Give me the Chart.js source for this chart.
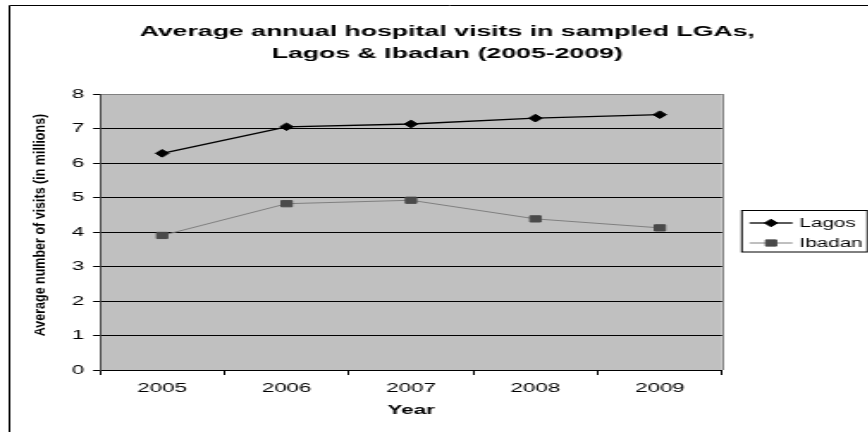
<!DOCTYPE html>
<html>
<head>
<meta charset="utf-8">
<title>Hospital visits, Lagos & Ibadan</title>
<script src="https://cdn.jsdelivr.net/npm/chart.js@4.4.1/dist/chart.umd.min.js"></script>
<style>
  html, body { margin: 0; padding: 0; overflow: hidden; background: #fff; }
  /* the chart is laid out narrow and stretched sideways */
  #wrap {
    position: absolute; left: 0; top: 0;
    width: 517px; height: 432px;
    transform: scaleX(1.72); transform-origin: 0 0;
  }
</style>
</head>
<body>
<div id="wrap"><canvas id="chart" width="517" height="432"></canvas></div>
<script>
const years = ['2005', '2006', '2007', '2008', '2009'];
const lagosVisits = [6.28, 7.05, 7.13, 7.3, 7.4];
const ibadanVisits = [3.9, 4.82, 4.92, 4.38, 4.12];
const yMin = 0;
const yMax = 8;
const titleLines = ['Average annual hospital visits in sampled LGAs,', 'Lagos & Ibadan (2005-2009)'];
const yTitle = 'Average number of visits (in millions)';
const xTitle = 'Year';

const FONT = 'Arial, "Liberation Sans", sans-serif';
Chart.defaults.font.family = FONT;
Chart.defaults.color = '#000';

// frame, plot background, title, rotated axis title and the boxed legend
const decorations = {
    id: 'decorations',
    beforeDraw(chart) {
        const { ctx, chartArea: a } = chart;
        ctx.save();
        ctx.fillStyle = '#c0c0c0';
        ctx.fillRect(a.left, a.top, a.right - a.left, a.bottom - a.top);
        ctx.restore();
    },
    afterDraw(chart) {
        const { ctx, chartArea: a } = chart;
        ctx.save();

        // outer frame (only left and top edges fall inside the page)
        ctx.strokeStyle = '#000';
        ctx.lineWidth = 1;
        ctx.beginPath();
        ctx.moveTo(5.5, chart.height + 5);
        ctx.lineTo(5.5, 5.5);
        ctx.lineTo(chart.width + 5, 5.5);
        ctx.stroke();

        // right edge of the plot area
        ctx.strokeStyle = '#808080';
        ctx.beginPath();
        ctx.moveTo(Math.round(a.right) + 0.5, a.top);
        ctx.lineTo(Math.round(a.right) + 0.5, a.bottom);
        ctx.stroke();

        // title
        ctx.fillStyle = '#000';
        ctx.font = 'bold 15.5px ' + FONT;
        ctx.textAlign = 'center';
        ctx.textBaseline = 'alphabetic';
        titleLines.forEach((line, i) => ctx.fillText(line, 260, 36 + i * 22));

        // y axis title, squeezed across its width
        ctx.save();
        ctx.translate(23.3, 225);
        ctx.scale(0.75, 1);
        ctx.rotate(-Math.PI / 2);
        ctx.font = 'bold 12.5px ' + FONT;
        ctx.textBaseline = 'middle';
        ctx.fillText(yTitle, 0, 0);
        ctx.restore();

        // legend
        const left = a.right + 11.5;
        ctx.strokeStyle = '#000';
        ctx.strokeRect(left, 210.5, 73, 41.5);
        ctx.font = '12px ' + FONT;
        ctx.textAlign = 'left';
        ctx.textBaseline = 'middle';
        chart.data.datasets.forEach((ds, i) => {
            const y = 223 + i * 20;
            ctx.strokeStyle = ds.borderColor;
            ctx.lineWidth = ds.borderWidth;
            ctx.beginPath();
            ctx.moveTo(left + 4.5, y);
            ctx.lineTo(left + 29.5, y);
            ctx.stroke();
            ctx.fillStyle = ds.pointBackgroundColor;
            ctx.strokeStyle = ds.pointBorderColor;
            ctx.lineWidth = 1;
            Chart.helpers.drawPoint(ctx, {
                pointStyle: ds.pointStyle,
                radius: ds.pointRadius,
                rotation: 0,
                borderWidth: 1
            }, left + 17, y);
            ctx.fillStyle = '#000';
            ctx.fillText(ds.label, left + 33.5, y + 0.5);
        });

        ctx.restore();
    }
};

new Chart(document.getElementById('chart'), {
    type: 'line',
    data: {
        labels: years,
        datasets: [
            {
                label: 'Lagos',
                data: lagosVisits,
                borderColor: '#000',
                borderWidth: 1.3,
                pointStyle: 'rectRot',
                pointRadius: 3.8,
                pointBackgroundColor: '#000',
                pointBorderColor: '#000',
                pointBorderWidth: 1
            },
            {
                label: 'Ibadan',
                data: ibadanVisits,
                borderColor: '#808080',
                borderWidth: 1,
                pointStyle: 'rect',
                pointRadius: 4.4,
                pointBackgroundColor: '#4a4a4a',
                pointBorderColor: '#4a4a4a',
                pointBorderWidth: 1
            }
        ]
    },
    options: {
        responsive: false,
        animation: false,
        events: [],
        layout: { padding: { left: 0, top: 94, right: 97.2, bottom: 0 } },
        plugins: {
            legend: { display: false },
            title: { display: false },
            tooltip: { enabled: false }
        },
        scales: {
            x: {
                offset: true,
                grid: {
                    offset: true,
                    drawOnChartArea: false,
                    tickLength: 5,
                    color: '#000'
                },
                border: { color: '#000', width: 1 },
                ticks: { font: { size: 13 }, padding: 6 },
                title: {
                    display: true,
                    text: xTitle,
                    font: { size: 13, weight: 'bold' },
                    padding: { top: 0, bottom: 13.7 }
                },
                afterFit: scale => { scale.height = 62; }
            },
            y: {
                min: yMin,
                max: yMax,
                ticks: { stepSize: 1, font: { size: 13 }, padding: 5 },
                grid: {
                    tickLength: 4,
                    color: ctx => (ctx.tick && ctx.tick.value === yMax ? '#808080' : '#000'),
                    tickColor: '#000'
                },
                border: { color: '#404040', width: 1 },
                afterFit: scale => { scale.width = 58.1; }
            }
        }
    },
    plugins: [decorations]
});
</script>
</body>
</html>
